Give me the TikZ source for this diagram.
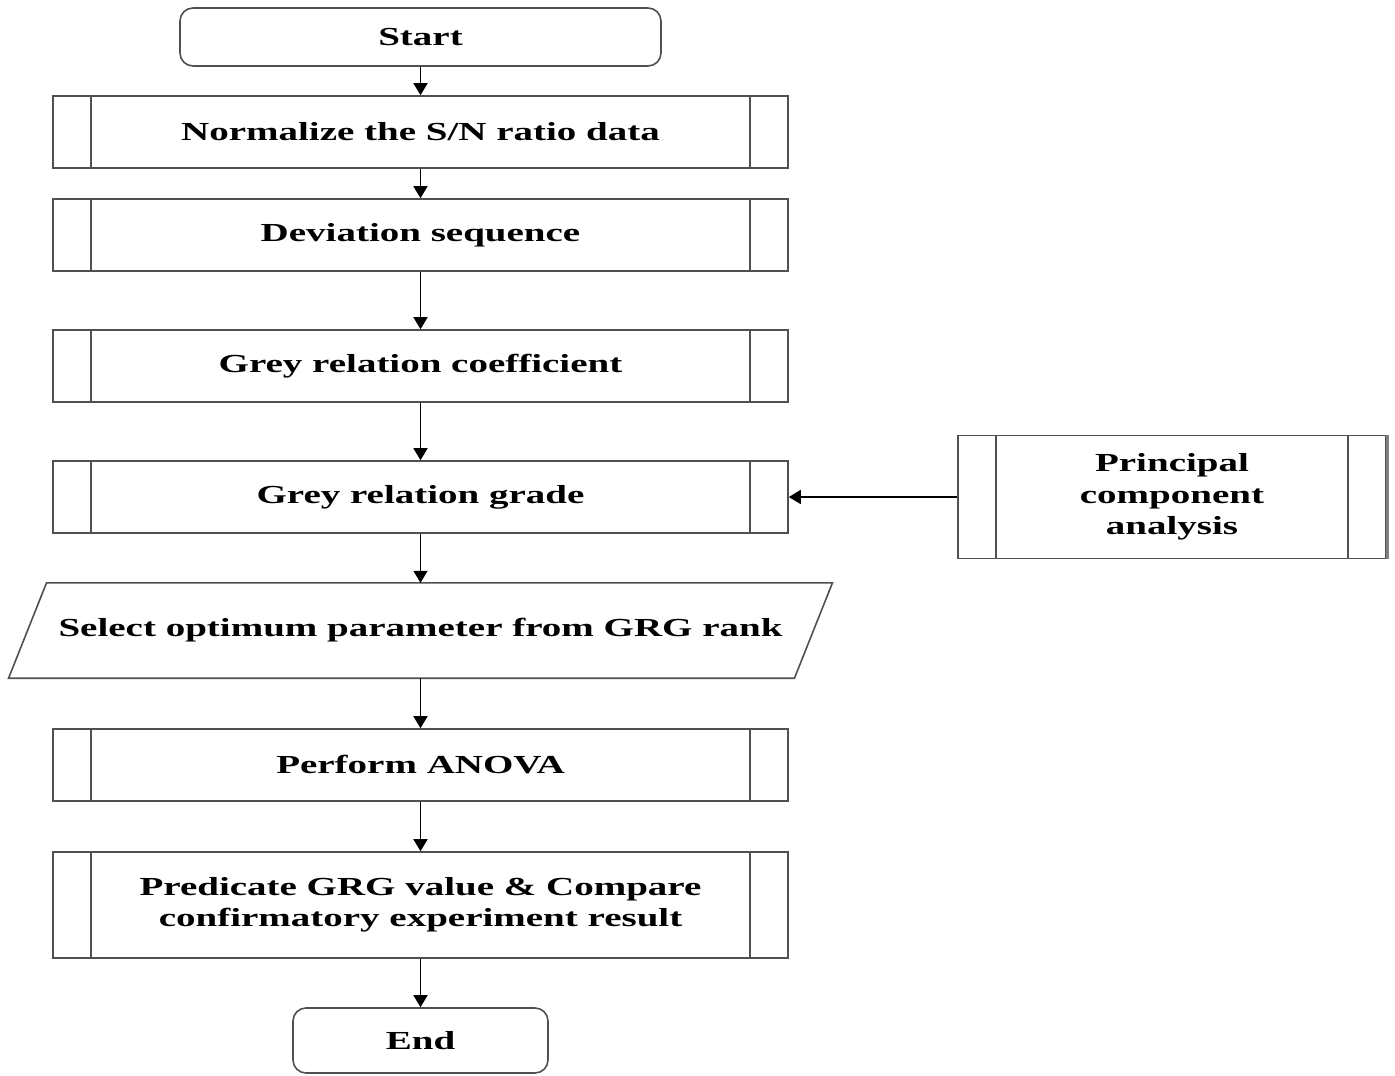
\documentclass[tikz,border=0pt]{standalone}
\usepackage{fontspec}
\setmainfont[FakeStretch=1.5]{Liberation Serif}
\usetikzlibrary{arrows.meta}
\definecolor{boxline}{HTML}{505050}
\begin{document}
\begin{tikzpicture}[x=1pt,y=-1pt,
  every node/.style={font=\fontsize{26}{31.5}\selectfont\bfseries, text=black, inner sep=0pt},
  term/.style={draw=boxline, line width=1.6pt, rounded corners=13pt, minimum width=#1, minimum height=58pt},
  pbox/.style={draw=boxline, line width=1.6pt, minimum width=735pt, minimum height=72pt, align=center,
    path picture={\draw[boxline, line width=1.6pt]
      ([xshift=38pt]path picture bounding box.north west) -- ([xshift=38pt]path picture bounding box.south west)
      ([xshift=-38pt]path picture bounding box.north east) -- ([xshift=-38pt]path picture bounding box.south east);}},
  arr/.style={-{Triangle[length=12pt,width=14pt]}, line width=1.6pt, black}
]
\useasboundingbox (0,0) rectangle (1395,1076);

\node[term=481pt] (start) at (420.5,37) {Start};
\node[pbox] (b1) at (420.5,132) {Normalize the S/N ratio data};
\node[pbox] (b2) at (420.5,235) {Deviation sequence};
\node[pbox] (b3) at (420.5,366) {Grey relation coefficient};
\node[pbox] (b4) at (420.5,497) {Grey relation grade};
\node[minimum width=785.5pt, minimum height=95pt] (sel) at (420.5,630.5) {Select optimum parameter from GRG rank};
\draw[boxline, line width=1.6pt]
  ([xshift=19pt]sel.north west) -- ([xshift=19pt]sel.north east)
  -- ([xshift=-19pt]sel.south east) -- ([xshift=-19pt]sel.south west) -- cycle;
\node[pbox] (b5) at (420.5,765) {Perform ANOVA};
\node[pbox, minimum height=106pt] (b6) at (420.5,905) {Predicate GRG value \& Compare\\confirmatory experiment result};
\node[term=255pt, minimum height=65pt] (end) at (420.5,1040.5) {End};

\node[pbox, minimum width=428pt, minimum height=123pt] (pca) at (1172,497) {Principal\\component\\analysis};
\draw[gray, line width=3pt] ([xshift=1pt]pca.north east) -- ([xshift=1pt]pca.south east);

\draw[arr] (start) -- (b1);
\draw[arr] (b1) -- (b2);
\draw[arr] (b2) -- (b3);
\draw[arr] (b3) -- (b4);
\draw[arr] (b4) -- (sel);
\draw[arr] (sel) -- (b5);
\draw[arr] (b5) -- (b6);
\draw[arr] (b6) -- (end);
\draw[arr] (pca) -- (b4);
\end{tikzpicture}
\end{document}
